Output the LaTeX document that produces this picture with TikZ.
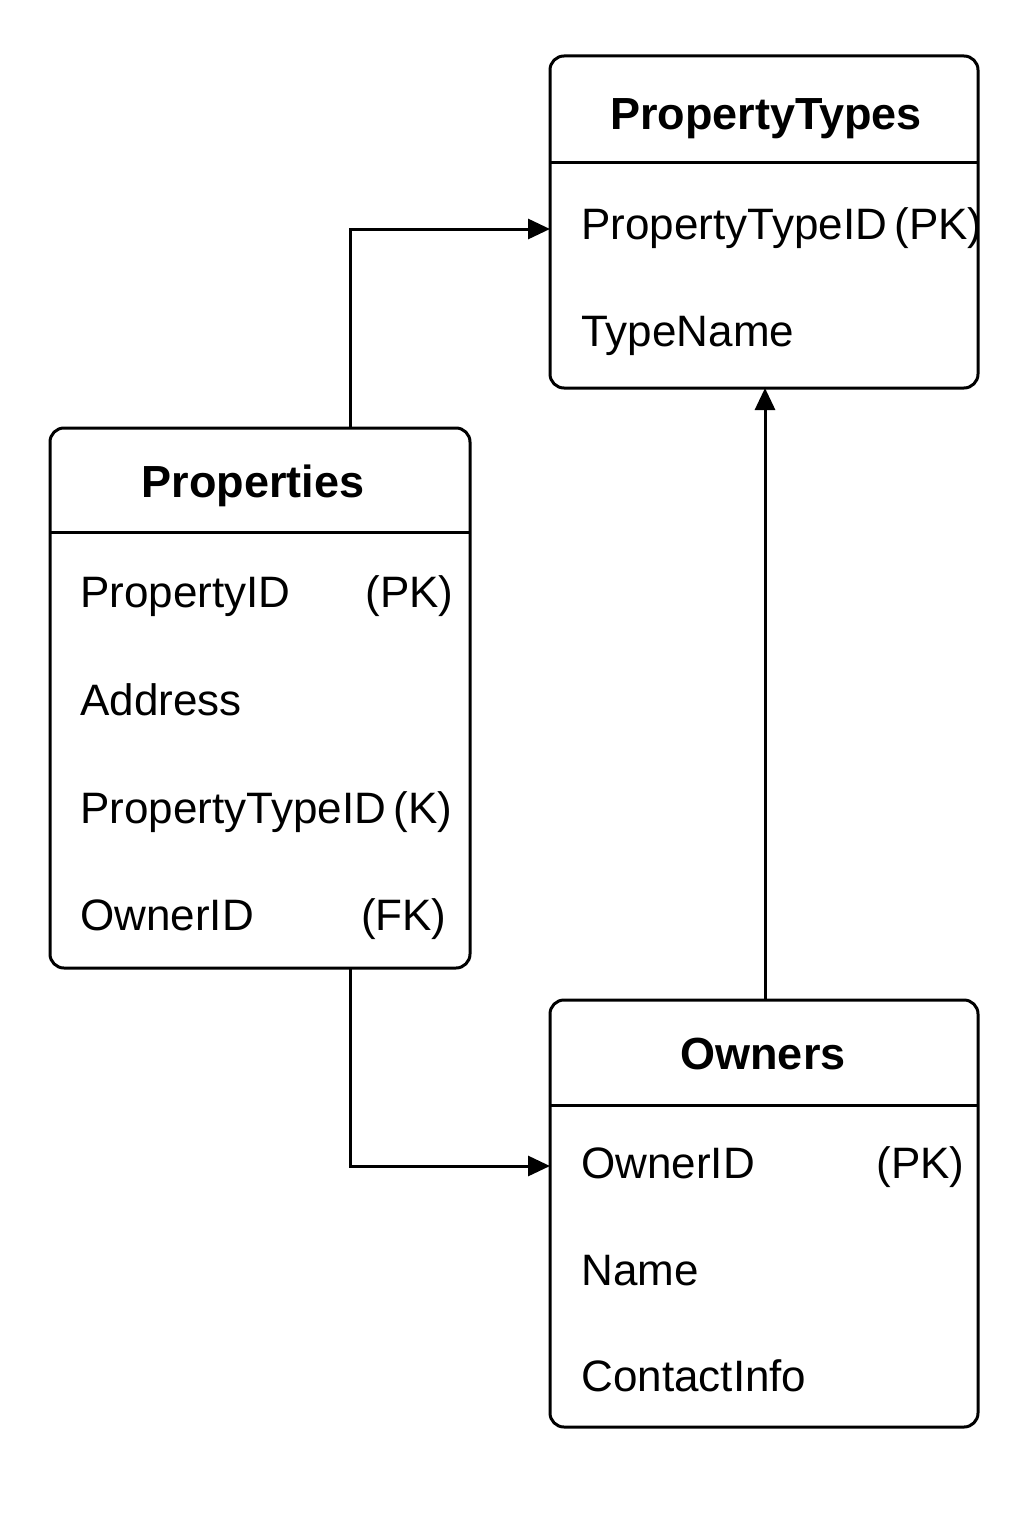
\documentclass[tikz,border=0pt]{standalone}
\usepackage{fontspec}
\setmainfont{Liberation Sans}
\usetikzlibrary{arrows.meta}
\begin{document}
\begin{tikzpicture}[x=0.5pt,y=-0.5pt,
  tbl/.style={draw,line width=1.5pt,rounded corners=7pt},
  sep/.style={line width=1.5pt},
  ttl/.style={font=\fontsize{22.5}{26}\selectfont\bfseries,anchor=base,inner sep=0pt},
  fld/.style={font=\fontsize{22}{26}\selectfont,anchor=base west,inner sep=0pt},
  key/.style={font=\fontsize{22}{26}\selectfont,anchor=base east,inner sep=0pt},
  conn/.style={line width=1.5pt,-{Triangle[length=11pt,width=10pt]}}]
\useasboundingbox (0,0) rectangle (1024,1536);
% PropertyTypes
\draw[tbl] (550,56) rectangle (978,388);
\coordinate (ptl) at (550,162); \coordinate (ptr) at (978,162);
\draw[sep] (ptl) -- (ptr);
\node[ttl] (ptt) at (766,129) {PropertyTypes};
\node[fld] (pt1) at (581,239) {PropertyTypeID\,(PK)};
\node[fld] (pt2) at (581,346) {TypeName};
\coordinate (ptin) at (550,229);
\coordinate (ptbot) at (765,388);
% Properties
\draw[tbl] (50,428) rectangle (470,968);
\coordinate (prl) at (50,532); \coordinate (prr) at (470,532);
\draw[sep] (prl) -- (prr);
\node[ttl] (prt) at (253,497) {Properties};
\node[fld] (pr1) at (80,607) {PropertyID};
\node[key] (pr1k) at (454,607) {(PK)};
\node[fld] (pr2) at (80,715) {Address};
\node[fld] (pr3) at (80,823) {PropertyTypeID\,(K)};
\node[fld] (pr4) at (80,930) {OwnerID};
\node[key] (pr4k) at (447,930) {(FK)};
\coordinate (prtop) at (350,428);
\coordinate (prbot) at (350,968);
% Owners
\draw[tbl] (550,1000) rectangle (978,1427);
\coordinate (owl) at (550,1105); \coordinate (owr) at (978,1105);
\draw[sep] (owl) -- (owr);
\node[ttl] (owt) at (763,1069) {Owners};
\node[fld] (ow1) at (581,1178) {OwnerID};
\node[key] (ow1k) at (965,1178) {(PK)};
\node[fld] (ow2) at (581,1285) {Name};
\node[fld] (ow3) at (581,1391) {ContactInfo};
\coordinate (owtop) at (765,1000);
\coordinate (owin) at (550,1166);
% connectors
\draw[conn] (prtop) |- (ptin);
\draw[conn] (owtop) -- (ptbot);
\draw[conn] (prbot) |- (owin);
\end{tikzpicture}
\end{document}
